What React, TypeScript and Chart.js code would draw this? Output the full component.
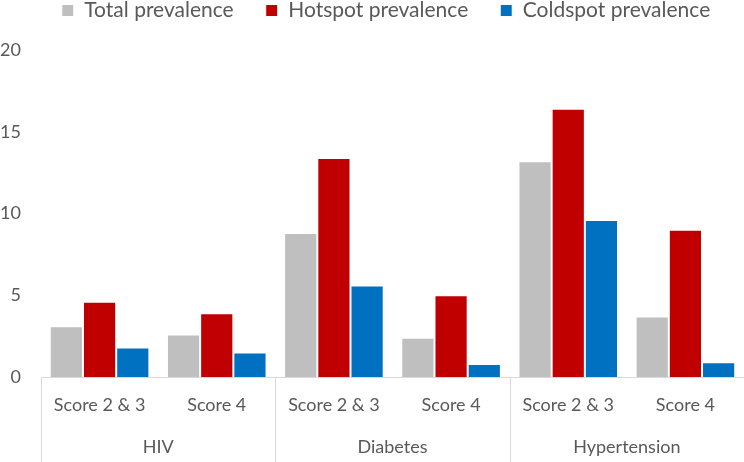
import React, { useEffect, useRef } from "react";
import { Chart, registerables } from "chart.js";

Chart.register(...registerables);

const subLabels = ["Score 2 & 3", "Score 4", "Score 2 & 3", "Score 4", "Score 2 & 3", "Score 4"];
const groupLabels = ["HIV", "Diabetes", "Hypertension"];
const totalPrevalence = [3.1, 2.6, 8.8, 2.4, 13.2, 3.7];
const hotspotPrevalence = [4.6, 3.9, 13.4, 5.0, 16.4, 9.0];
const coldspotPrevalence = [1.8, 1.5, 5.6, 0.8, 9.6, 0.9];
const yTicks = [0, 5, 10, 15, 20];

const FONT = "Lato";
const TEXT = "#595959";
const LINE = "#D9D9D9";

const legendShift = {
  id: "legendShift",
  afterLayout(chart: any) {
    if (chart.legend) {
      chart.legend.left += 14;
      chart.legend.right += 14;
    }
  },
};

const groupPlugin = {
  id: "groupAxis",
  afterDraw(chart: any) {
    const x = chart.scales.x;
    const ctx = chart.ctx;
    const top = chart.chartArea.bottom;
    const bottom = chart.height;
    const step = x.getPixelForValue(1) - x.getPixelForValue(0);
    const per = subLabels.length / groupLabels.length;
    ctx.save();
    ctx.strokeStyle = LINE;
    ctx.lineWidth = 1;
    for (let i = 0; i <= groupLabels.length; i++) {
      const px = Math.round(x.getPixelForValue(i * per) - step / 2) + 0.5;
      ctx.beginPath();
      ctx.moveTo(px, top);
      ctx.lineTo(px, bottom);
      ctx.stroke();
    }
    ctx.fillStyle = TEXT;
    ctx.font = `18px ${FONT}`;
    ctx.textAlign = "center";
    ctx.textBaseline = "middle";
    groupLabels.forEach((g, i) => {
      const c = (x.getPixelForValue(i * per) + x.getPixelForValue(i * per + per - 1)) / 2;
      ctx.fillText(g, c, 447);
    });
    ctx.restore();
  },
};

export default function App() {
  const ref = useRef<HTMLCanvasElement>(null);
  useEffect(() => {
    if (!ref.current) return;
    const chart = new Chart(ref.current, {
      type: "bar",
      data: {
        labels: subLabels,
        datasets: [
          { label: "Total prevalence", data: totalPrevalence, backgroundColor: "#BFBFBF", borderColor: "#FFFFFF", borderWidth: 1 },
          { label: "Hotspot prevalence", data: hotspotPrevalence, backgroundColor: "#C00000", borderColor: "#FFFFFF", borderWidth: 1 },
          { label: "Coldspot prevalence", data: coldspotPrevalence, backgroundColor: "#0070C0", borderColor: "#FFFFFF", borderWidth: 1 },
        ],
      },
      options: {
        animation: false,
        responsive: true,
        maintainAspectRatio: false,
        layout: { padding: { top: -32, right: 0, left: 0, bottom: 0 } },
        plugins: {
          legend: {
            position: "top",
            labels: {
              color: TEXT,
              font: { family: FONT, size: 21 },
              boxWidth: 12,
              boxHeight: 12,
              padding: 32,
            },
          },
          title: {
            display: true,
            text: " ",
            position: "top",
            weight: 500,
            font: { size: 1, lineHeight: 1 },
            padding: { top: 0, bottom: 18 },
          },
          tooltip: { enabled: false },
        },
        scales: {
          x: {
            grid: { display: false, drawTicks: false },
            border: { color: LINE },
            ticks: { color: TEXT, font: { family: FONT, size: 18 }, padding: 17, maxRotation: 0, autoSkip: false },
            afterFit: (s: any) => { s.height = 85; },
          },
          y: {
            min: 0,
            max: 20,
            afterBuildTicks: (s: any) => { s.ticks = yTicks.map((v) => ({ value: v })); },
            grid: { display: false, drawTicks: false },
            border: { display: false },
            ticks: { color: TEXT, font: { family: FONT, size: 18 }, padding: 20 },
            afterFit: (s: any) => { s.width = 41; },
          },
        },
        datasets: { bar: { categoryPercentage: 0.85, barPercentage: 1 } },
      } as any,
      plugins: [groupPlugin, legendShift],
    });
    return () => chart.destroy();
  }, []);
  return (
    <div style={{ position: "fixed", left: 0, top: 0, width: 744, height: 462 }}>
      <canvas ref={ref} />
    </div>
  );
}
